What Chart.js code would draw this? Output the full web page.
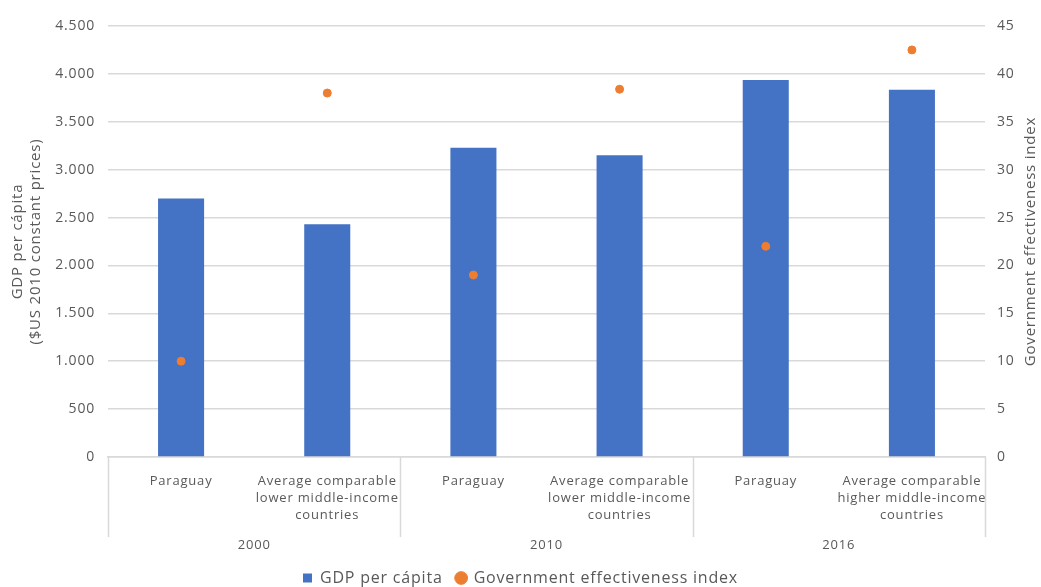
<!DOCTYPE html>
<html>
<head>
<meta charset="utf-8">
<script src="https://cdn.jsdelivr.net/npm/chart.js@4"></script>
<style>
  html, body { margin: 0; padding: 0; background: #fff; }
  #wrap { width: 1041px; height: 587px; }
</style>
</head>
<body>
<div id="wrap"><canvas id="myChart"></canvas></div>
<script>
const categories = [
  ['Paraguay'],
  ['Average comparable', 'lower middle-income', 'countries'],
  ['Paraguay'],
  ['Average comparable', 'lower middle-income', 'countries'],
  ['Paraguay'],
  ['Average comparable', 'higher middle-income', 'countries']
];
const years = ['2000', '2010', '2016'];
const gdpPerCapita = [2700, 2430, 3230, 3150, 3935, 3835];
const effectivenessIndex = [10, 38, 19, 38.4, 22, 42.5];

const textColor = '#595959';
const gridColor = '#D9D9D9';
const fontFamily = '"Open Sans", sans-serif';

// slightly wider text, closer to the original typeface
const spacing = {
  id: 'spacing',
  beforeLayout(chart) { chart.ctx.letterSpacing = '0.8px'; },
  beforeDraw(chart) { chart.ctx.letterSpacing = '0.8px'; }
};

// vertical separators between the year groups + right axis title
const groupLines = {
  id: 'groupLines',
  afterDraw(chart) {
    const { ctx, chartArea, scales } = chart;
    const x = scales.x;
    const n = categories.length;
    const step = (x.getPixelForValue(1) - x.getPixelForValue(0));
    ctx.save();
    ctx.strokeStyle = gridColor;
    ctx.lineWidth = 1.5;
    for (let i = 0; i <= n; i += 2) {
      const px = Math.round(x.getPixelForValue(0) - step / 2 + i * step) + 0.5;
      ctx.beginPath();
      ctx.moveTo(px, chartArea.bottom);
      ctx.lineTo(px, x.bottom);
      ctx.stroke();
    }
    // right title, reading bottom-to-top
    ctx.translate(1031, (chartArea.top + chartArea.bottom) / 2);
    ctx.rotate(-Math.PI / 2);
    ctx.fillStyle = textColor;
    ctx.font = '15px ' + fontFamily;
    ctx.textAlign = 'center';
    ctx.textBaseline = 'middle';
    ctx.fillText('Government effectiveness index', 0, 0);
    ctx.restore();
  }
};

const fmt = v => v.toString().replace(/\B(?=(\d{3})+(?!\d))/g, '.');

const ctx = document.getElementById('myChart').getContext('2d');
new Chart(ctx, {
  type: 'bar',
  data: {
    labels: categories,
    datasets: [{
      label: 'GDP per cápita',
      data: gdpPerCapita,
      backgroundColor: '#4472C4',
      barPercentage: 0.315,
      categoryPercentage: 1,
      pointStyle: 'rect',
      yAxisID: 'y',
      order: 1
    }, {
      type: 'line',
      label: 'Government effectiveness index',
      data: effectivenessIndex,
      showLine: false,
      pointStyle: 'circle',
      pointRadius: 4,
      pointHoverRadius: 5,
      pointBackgroundColor: '#ED7D31',
      pointBorderColor: '#ED7D31',
      backgroundColor: '#ED7D31',
      borderColor: '#ED7D31',
      yAxisID: 'y1',
      order: 0
    }]
  },
  options: {
    responsive: true,
    maintainAspectRatio: false,
    animation: false,
    layout: { padding: { top: 26, left: 0, right: 0, bottom: -9 } },
    plugins: {
      legend: {
        position: 'bottom',
        labels: {
          usePointStyle: true,
          boxWidth: 9,
          boxHeight: 9,
          padding: 14,
          color: textColor,
          font: { family: fontFamily, size: 16 },
          sort: (a, b) => a.datasetIndex - b.datasetIndex
        }
      },
      tooltip: { enabled: false }
    },
    scales: {
      x: {
        position: 'bottom',
        grid: { display: false },
        border: { color: gridColor, width: 1.5 },
        ticks: {
          color: textColor,
          padding: 8,
          maxRotation: 0,
          autoSkip: false,
          font: { family: fontFamily, size: 13, lineHeight: 1.3 }
        },
        afterFit: s => { s.height = 80; }
      },
      x2: {
        type: 'category',
        position: 'bottom',
        labels: years,
        grid: { display: false, drawTicks: false },
        border: { display: false },
        ticks: {
          color: textColor,
          padding: 0,
          font: { family: fontFamily, size: 13 }
        },
        afterFit: s => { s.height = 19; }
      },
      y: {
        position: 'left',
        min: 0,
        max: 4500,
        grid: { color: gridColor, lineWidth: 1.5, drawTicks: false },
        border: { display: false },
        ticks: {
          stepSize: 500,
          padding: 13,
          color: textColor,
          font: { family: fontFamily, size: 14 },
          callback: v => fmt(v)
        },
        title: {
          display: true,
          text: ['GDP per cápita', '($US 2010 constant prices)'],
          color: textColor,
          padding: { top: 8, bottom: 0 },
          font: { family: fontFamily, size: 15, lineHeight: 1.25 }
        },
        afterFit: s => { s.width = 108; }
      },
      y1: {
        position: 'right',
        min: 0,
        max: 45,
        grid: { display: false, drawTicks: false },
        border: { display: false },
        ticks: {
          stepSize: 5,
          padding: 12,
          color: textColor,
          font: { family: fontFamily, size: 14 }
        },
        afterFit: s => { s.width = 56; }
      }
    }
  },
  plugins: [spacing, groupLines]
});
</script>
</body>
</html>
